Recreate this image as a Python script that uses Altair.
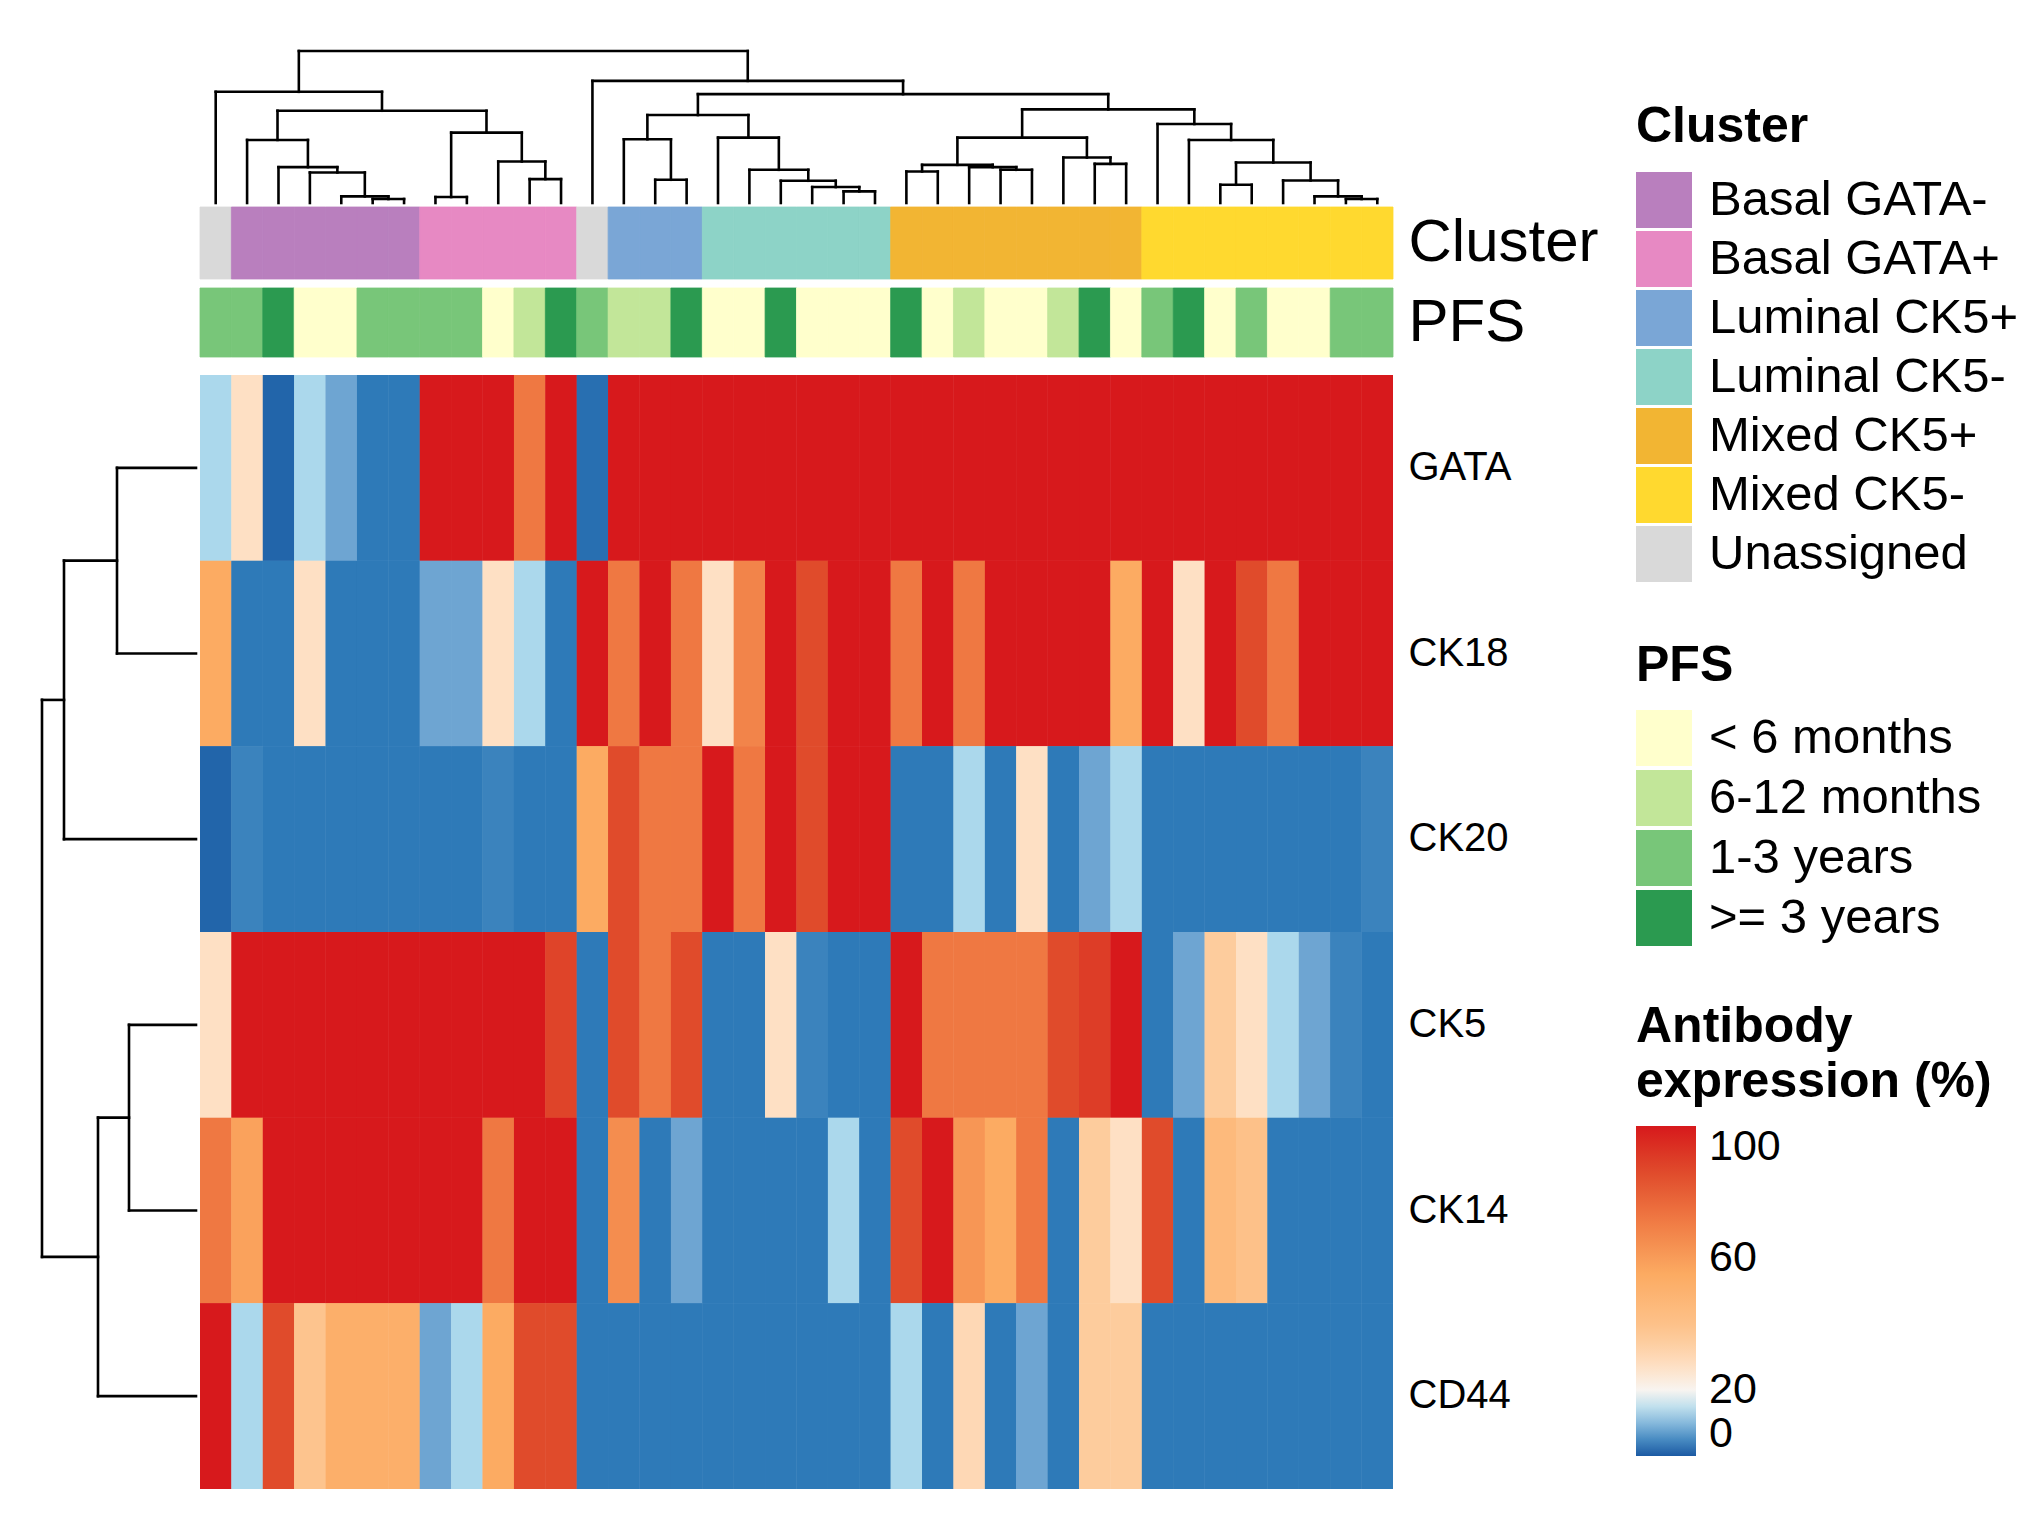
import altair as alt
import pandas as pd

FONT = "Liberation Sans"

# ---------------- data ----------------
markers = ["GATA", "CK18", "CK20", "CK5", "CK14", "CD44"]
samples = list(range(38))

cluster_order = ["Basal GATA-", "Basal GATA+", "Luminal CK5+", "Luminal CK5-",
                 "Mixed CK5+", "Mixed CK5-", "Unassigned"]
cluster_colors = ["#b97fbe", "#e789c3", "#7aa6d6", "#8dd3c7", "#f2b533", "#ffd92f", "#d9d9d9"]

cluster_per_sample = [
    "Unassigned",
    "Basal GATA-", "Basal GATA-", "Basal GATA-", "Basal GATA-", "Basal GATA-", "Basal GATA-",
    "Basal GATA+", "Basal GATA+", "Basal GATA+", "Basal GATA+", "Basal GATA+",
    "Unassigned",
    "Luminal CK5+", "Luminal CK5+", "Luminal CK5+",
    "Luminal CK5-", "Luminal CK5-", "Luminal CK5-", "Luminal CK5-", "Luminal CK5-", "Luminal CK5-",
    "Mixed CK5+", "Mixed CK5+", "Mixed CK5+", "Mixed CK5+", "Mixed CK5+", "Mixed CK5+", "Mixed CK5+", "Mixed CK5+",
    "Mixed CK5-", "Mixed CK5-", "Mixed CK5-", "Mixed CK5-", "Mixed CK5-", "Mixed CK5-", "Mixed CK5-", "Mixed CK5-",
]

pfs_order = ["< 6 months", "6-12 months", "1-3 years", ">= 3 years"]
pfs_colors = ["#ffffcc", "#c2e699", "#78c679", "#2b9a50"]

pfs_per_sample = [
    "1-3 years", "1-3 years", ">= 3 years", "< 6 months", "< 6 months",
    "1-3 years", "1-3 years", "1-3 years", "1-3 years", "< 6 months",
    "6-12 months", ">= 3 years", "1-3 years", "6-12 months", "6-12 months",
    ">= 3 years", "< 6 months", "< 6 months", ">= 3 years", "< 6 months",
    "< 6 months", "< 6 months", ">= 3 years", "< 6 months", "6-12 months",
    "< 6 months", "< 6 months", "6-12 months", ">= 3 years", "< 6 months",
    "1-3 years", ">= 3 years", "< 6 months", "1-3 years", "< 6 months",
    "< 6 months", "1-3 years", "1-3 years",
]

expr_gata = [13, 27, 1, 13, 8, 3, 3, 100, 100, 100, 72, 100, 2,
             100, 100, 100, 100, 100, 100, 100, 100, 100, 100, 100, 100,
             100, 100, 100, 100, 100, 100, 100, 100, 100, 100, 100, 100, 100]
expr_ck18 = [55, 3, 3, 27, 3, 3, 3, 8, 8, 27, 13, 3, 100,
             72, 100, 72, 27, 68, 100, 86, 100, 100, 72, 100, 72,
             100, 100, 100, 100, 55, 100, 27, 100, 86, 72, 100, 100, 100]
expr_ck20 = [1, 4, 3, 3, 3, 3, 3, 3, 3, 4, 3, 3, 55,
             86, 72, 72, 100, 72, 100, 86, 100, 100, 3, 3, 13,
             3, 27, 3, 8, 13, 3, 3, 3, 3, 3, 3, 3, 4]
expr_ck5 = [27, 100, 100, 100, 100, 100, 100, 100, 100, 100, 100, 88, 3,
            86, 72, 86, 3, 3, 27, 4, 3, 3, 100, 72, 72,
            72, 72, 86, 90, 100, 3, 8, 35, 27, 13, 8, 4, 3]
expr_ck14 = [72, 58, 100, 100, 100, 100, 100, 100, 100, 72, 100, 100, 3,
             65, 3, 8, 3, 3, 3, 3, 13, 3, 86, 100, 62,
             55, 72, 3, 35, 27, 86, 3, 45, 40, 3, 3, 3, 3]
expr_cd44 = [100, 13, 86, 38, 52, 52, 52, 8, 13, 55, 86, 86, 3,
             3, 3, 3, 3, 3, 3, 3, 3, 3, 13, 3, 30,
             3, 8, 3, 35, 35, 3, 3, 3, 3, 3, 3, 3, 3]
expr_rows = [expr_gata, expr_ck18, expr_ck20, expr_ck5, expr_ck14, expr_cd44]

# colour scale of the heatmap (piecewise)
expr_stops = [0, 3, 8, 13, 20, 27, 38, 55, 72, 86, 100]
expr_colors = ["#1c5aa3", "#2e7ab8", "#6ea5d2", "#abd8ec", "#f8f4f0", "#fee0c4",
               "#fdc48e", "#fcab62", "#ef7842", "#e04b2b", "#d7191c"]

# dendrograms: (node, left, right, merge height); ints are leaves
col_merges = [
    ("a1", 5, 6, 12), ("a2", 4, "a1", 20), ("a3", 3, "a2", 92), ("a4", 2, "a3", 108),
    ("a5", 1, "a4", 190),
    ("p1", 7, 8, 18), ("p2", 10, 11, 72), ("p3", 9, "p2", 125), ("p4", "p1", "p3", 212),
    ("ap", "a5", "p4", 278), ("L", 0, "ap", 335),
    ("l1", 14, 15, 70), ("l2", 13, "l1", 192),
    ("l3", 20, 21, 35), ("l4", 19, "l3", 48), ("l5", 18, "l4", 67), ("l6", 17, "l5", 100),
    ("l7", 16, "l6", 197), ("lum", "l2", "l7", 265),
    ("m1", 22, 23, 95), ("m2", 25, 26, 100), ("m3", 24, "m2", 108), ("m4", "m1", "m3", 115),
    ("m5", 28, 29, 118), ("m6", 27, "m5", 137), ("mA", "m4", "m6", 197),
    ("n1", 36, 37, 12), ("n2", 35, "n1", 20), ("n3", 34, "n2", 68), ("n4", 32, 33, 55),
    ("n5", "n4", "n3", 122), ("n6", 31, "n5", 190), ("mB", 30, "n6", 238),
    ("mix", "mA", "mB", 282), ("lm", "lum", "mix", 328), ("R", 12, "lm", 368),
    ("root", "L", "R", 458),
]
row_merges = [
    ("g1", 0, 1, 79), ("g2", "g1", 2, 132),
    ("b1", 3, 4, 67), ("b2", "b1", 5, 98),
    ("root", "g2", "b2", 154),
]


def dendro_segments(merges):
    pos, hgt, rows = {}, {}, []

    def p(k):
        return pos[k] if isinstance(k, str) else k + 0.5

    def h(k):
        return hgt[k] if isinstance(k, str) else 0

    for name, a, b, ht in merges:
        xa, xb = p(a), p(b)
        rows.append(dict(p1=xa, p2=xa, h1=h(a), h2=ht))
        rows.append(dict(p1=xb, p2=xb, h1=h(b), h2=ht))
        rows.append(dict(p1=xa, p2=xb, h1=ht, h2=ht))
        pos[name] = (xa + xb) / 2
        hgt[name] = ht
    return pd.DataFrame(rows)


col_seg = dendro_segments(col_merges)
row_seg = dendro_segments(row_merges)

ann = pd.DataFrame({"sample": samples, "Cluster": cluster_per_sample, "PFS": pfs_per_sample,
                    "c_lab": "Cluster", "p_lab": "PFS"})
ann["Cluster_edge"] = ann["Cluster"]
ann["PFS_edge"] = ann["PFS"]
heat_df = pd.DataFrame([
    {"sample": s, "marker": m, "value": expr_rows[i][s]}
    for i, m in enumerate(markers) for s in samples
])

# ---------------- layout ----------------
W = 1193
H_DEN = 152
H_CL = 77
H_PFS = 83
H_HEAT = 1114
W_RD = 154
LX = 1436

legend_title = dict(
    orient="none", direction="vertical", padding=0,
    titleFontSize=50, titleFontWeight="bold", titleColor="black", titleLimit=700,
    titleFont=FONT, labelFont=FONT, labelColor="black", labelLimit=700,
)
symbol_legend = dict(
    symbolType="square", symbolSize=3136, symbolStrokeWidth=0, symbolOpacity=1,
    labelOffset=17, labelFontSize=49, **legend_title,
)

line_kw = dict(color="black", strokeWidth=2.6, strokeCap="square")

col_dendro = alt.Chart(col_seg).mark_rule(**line_kw).encode(
    x=alt.X("p1:Q", axis=None, scale=alt.Scale(domain=[0, 38], nice=False, zero=False)),
    x2="p2:Q",
    y=alt.Y("h1:Q", axis=None, scale=alt.Scale(domain=[0, 458], nice=False)),
    y2="h2:Q",
).properties(width=W, height=H_DEN)

row_dendro = alt.Chart(row_seg).mark_rule(**line_kw).encode(
    x=alt.X("h1:Q", axis=None, scale=alt.Scale(domain=[0, 154], reverse=True, nice=False)),
    x2="h2:Q",
    y=alt.Y("p1:Q", axis=None, scale=alt.Scale(domain=[0, 6], reverse=True, nice=False, zero=False)),
    y2="p2:Q",
).properties(width=W_RD, height=H_HEAT)

x_enc = alt.X("sample:O", axis=None, scale=alt.Scale(paddingInner=0, paddingOuter=0))


def right_axis(size):
    return alt.Axis(orient="right", ticks=False, domain=False, labelFontSize=size,
                    labelPadding=15, labelColor="black", labelLimit=500, labelFont=FONT)


cluster_band = alt.Chart(ann).mark_rect(strokeWidth=0.8).encode(
    x=x_enc,
    y=alt.Y("c_lab:N", title=None, axis=right_axis(60),
            scale=alt.Scale(paddingInner=0, paddingOuter=0.0347, align=0)),
    color=alt.Color("Cluster:N", scale=alt.Scale(domain=cluster_order, range=cluster_colors),
                    legend=alt.Legend(title="Cluster", legendX=LX, legendY=-105,
                                      titlePadding=20, rowPadding=3, **symbol_legend)),
    stroke=alt.Stroke("Cluster_edge:N", legend=None,
                      scale=alt.Scale(domain=cluster_order, range=cluster_colors)),
).properties(width=W, height=H_CL)

pfs_band = alt.Chart(ann).mark_rect(strokeWidth=0.8).encode(
    x=x_enc,
    y=alt.Y("p_lab:N", title=None, axis=right_axis(60),
            scale=alt.Scale(paddingInner=0, paddingOuter=0.1014, align=0)),
    color=alt.Color("PFS:N", scale=alt.Scale(domain=pfs_order, range=pfs_colors),
                    legend=alt.Legend(title="PFS", legendX=LX, legendY=353,
                                      titlePadding=19, rowPadding=4, **symbol_legend)),
    stroke=alt.Stroke("PFS_edge:N", legend=None,
                      scale=alt.Scale(domain=pfs_order, range=pfs_colors)),
).properties(width=W, height=H_PFS)

heat_base = alt.Chart(heat_df).mark_rect().encode(
    x=x_enc,
    y=alt.Y("marker:N", sort=markers, title=None, axis=right_axis(40),
            scale=alt.Scale(paddingInner=0, paddingOuter=0)),
    color=alt.Color("value:Q",
                    scale=alt.Scale(domain=expr_stops, range=expr_colors, interpolate="rgb",
                                    clamp=True),
                    legend=alt.Legend(title=["Antibody", "expression (%)"], legendX=LX,
                                      legendY=627, titleLineHeight=55, titlePadding=19,
                                      values=[0, 20, 60, 100], gradientLength=330,
                                      gradientThickness=60, gradientStrokeWidth=0,
                                      labelFontSize=43, labelOffset=13, labelOverlap=False,
                                      **legend_title)),
)
# two identical layers hide the anti-aliasing seams between neighbouring cells
heat = alt.layer(heat_base, heat_base).properties(width=W, height=H_HEAT)


def spacer(h):
    return alt.Chart(pd.DataFrame({"v": [0.5]})).mark_point(opacity=0).encode(
        x=alt.X("v:Q", axis=None, scale=alt.Scale(domain=[0, 1])),
        y=alt.Y("v:Q", axis=None, scale=alt.Scale(domain=[0, 1])),
    ).properties(width=W_RD, height=h)


chart = alt.concat(
    spacer(H_DEN), col_dendro,
    spacer(H_CL), cluster_band,
    spacer(H_PFS), pfs_band,
    row_dendro, heat,
    columns=2, spacing=4, align="each", bounds="flush",
).resolve_scale(color="independent", stroke="independent").resolve_legend(
    color="independent", stroke="independent"
).properties(
    padding={"left": 31, "top": 40, "right": 5, "bottom": 10}
).configure(font=FONT).configure_view(stroke="transparent")

chart.save("out.html", embed_options={"renderer": "svg", "actions": False})
